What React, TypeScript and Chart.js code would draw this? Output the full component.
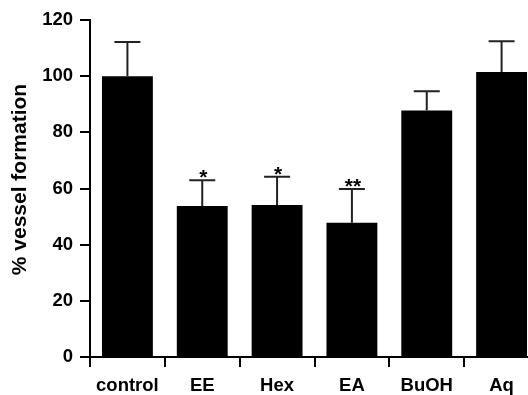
import React, { useEffect, useRef } from "react";
import { Chart, registerables } from "chart.js";

Chart.register(...registerables);

const categories = ["control", "EE", "Hex", "EA", "BuOH", "Aq"];
const means = [100, 53.8, 54.1, 47.8, 87.8, 101.5];
const errorTops = [112.2, 62.9, 64.2, 59.8, 94.6, 112.4];
const significance = ["", "*", "*", "**", "", ""];
const yTicks = [0, 20, 40, 60, 80, 100, 120];
const yTitle = "% vessel formation";

const FONT = "'Liberation Sans', Arial, sans-serif";

const errorPlugin = {
  id: "errorBars",
  afterDatasetsDraw(chart: any) {
    const ctx = chart.ctx;
    const x = chart.scales.x;
    const y = chart.scales.y;
    ctx.save();
    ctx.strokeStyle = "#222";
    ctx.lineWidth = 2;
    ctx.fillStyle = "#000";
    ctx.font = `bold 21px ${FONT}`;
    ctx.textAlign = "center";
    ctx.textBaseline = "alphabetic";
    categories.forEach((_, i) => {
      const cx = x.getPixelForValue(i);
      const yTop = y.getPixelForValue(means[i]);
      const yCap = y.getPixelForValue(errorTops[i]);
      ctx.beginPath();
      ctx.moveTo(cx, yTop);
      ctx.lineTo(cx, yCap);
      ctx.moveTo(cx - 13, yCap);
      ctx.lineTo(cx + 13, yCap);
      ctx.stroke();
      if (significance[i]) {
        ctx.fillText(significance[i], cx + 1, yCap + 4);
      }
    });
    ctx.restore();
    // y-axis title
    ctx.save();
    ctx.translate(20, (y.top + y.bottom) / 2 - 9);
    ctx.rotate(-Math.PI / 2);
    ctx.font = `bold 21px ${FONT}`;
    ctx.fillStyle = "#000";
    ctx.textAlign = "center";
    ctx.textBaseline = "middle";
    ctx.fillText(yTitle, 0, 0);
    ctx.restore();
  },
};

export default function App() {
  const ref = useRef<HTMLCanvasElement | null>(null);
  useEffect(() => {
    if (!ref.current) return;
    const chart = new Chart(ref.current, {
      type: "bar",
      data: {
        labels: categories,
        datasets: [
          {
            data: means,
            backgroundColor: "#000",
            borderWidth: 0,
            categoryPercentage: 1,
            barPercentage: 0.68,
          },
        ],
      },
      options: {
        responsive: false,
        animation: false,
        layout: { padding: { top: 20, right: 1, left: 0, bottom: 0 } },
        plugins: { legend: { display: false }, tooltip: { enabled: false } },
        scales: {
          x: {
            grid: {
              drawOnChartArea: false,
              drawTicks: true,
              tickLength: 10,
              color: "#000",
              lineWidth: 2,
            },
            border: { display: true, color: "#000", width: 2 },
            ticks: {
              color: "#000",
              font: { family: FONT, size: 18.5, weight: "bold" },
              padding: 8,
              maxRotation: 0,
            },
            afterFit: (s: any) => {
              s.height = 38;
            },
          },
          y: {
            min: 0,
            max: 120,
            afterBuildTicks: (s: any) => {
              s.ticks = yTicks.map((v) => ({ value: v }));
            },
            grid: {
              drawOnChartArea: false,
              drawTicks: true,
              tickLength: 10,
              color: "#000",
              lineWidth: 2,
            },
            border: { display: true, color: "#000", width: 2 },
            ticks: {
              color: "#000",
              font: { family: FONT, size: 18.5, weight: "bold" },
              padding: 7,
            },
            afterFit: (s: any) => {
              s.width = 90;
            },
          },
        },
      },
      plugins: [errorPlugin],
    });
    return () => chart.destroy();
  }, []);
  return (
    <div
      style={{
        position: "fixed",
        left: 0,
        top: 0,
        width: 528,
        height: 395,
        overflow: "hidden",
        background: "#fff",
      }}
    >
      <canvas ref={ref} width={540} height={395} style={{ width: 540, height: 395 }} />
    </div>
  );
}
